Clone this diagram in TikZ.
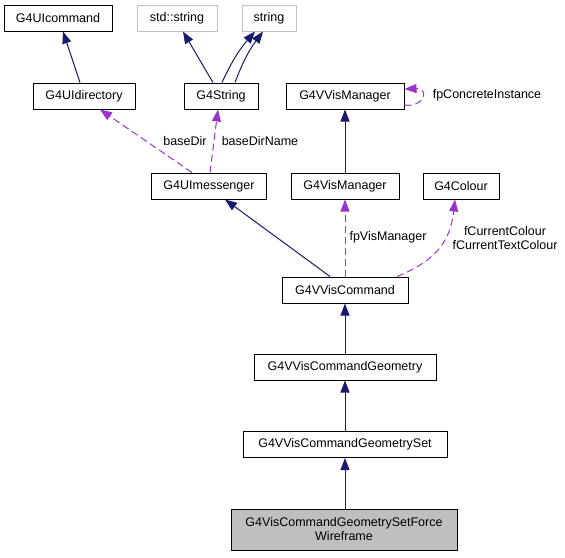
\documentclass[tikz,border=0pt]{standalone}
\usepackage{fontspec}
\setmainfont{Liberation Sans}
\usetikzlibrary{arrows.meta}
\definecolor{navyc}{HTML}{191970}
\definecolor{purp}{HTML}{9A32CD}
\definecolor{extgray}{HTML}{BFBFBF}
\begin{document}
\begin{tikzpicture}[x=1pt,y=-1pt,
    cls/.style={draw=black,fill=white,line width=1pt,inner sep=0pt,minimum height=26pt,font=\fontsize{12.5}{14}\selectfont},
    ext/.style={cls,draw=extgray},
    cur/.style={cls,fill=extgray,align=center,minimum height=41pt},
    inh/.style={navyc,line width=1pt,-{Triangle[length=12pt,width=9pt]}},
    usr/.style={purp,line width=1pt,dash pattern=on 7pt off 4pt,-{Triangle[length=12pt,width=9pt]}},
    lbl/.style={font=\fontsize{12.5}{14}\selectfont,inner sep=0pt}]
            \useasboundingbox (0,0) rectangle (565,557);
            \node[cls,minimum width=108pt] (cmd) at (58,18) {G4UIcommand};
            \node[ext,minimum width=80pt] (stds) at (177,18) {std::string};
            \node[ext,minimum width=54pt] (str) at (269,18) {string};
            \node[cls,minimum width=102pt] (dir) at (84,96) {G4UIdirectory};
            \node[cls,minimum width=74pt] (g4str) at (221,96) {G4String};
            \node[cls,minimum width=118pt] (vvm) at (345,96) {G4VVisManager};
            \node[cls,minimum width=115pt] (msg) at (209,186) {G4UImessenger};
            \node[cls,minimum width=108pt] (vm) at (345,186) {G4VisManager};
            \node[cls,minimum width=76pt] (col) at (461,186) {G4Colour};
            \node[cls,minimum width=126pt] (vcmd) at (345,290) {G4VVisCommand};
            \node[cls,minimum width=182pt] (geo) at (345,367) {G4VVisCommandGeometry};
            \node[cls,minimum width=204pt] (gset) at (345,444.5) {G4VVisCommandGeometrySet};
            \node[cur,minimum width=226pt] (wire) at (344,529.5) {G4VisCommandGeometrySetForce\\Wireframe};
            % inheritance
            \draw[inh] ([xshift=-4pt]dir.north) -- ([xshift=5pt]cmd.south);
            \draw[inh] ([xshift=-8pt]g4str.north) -- ([xshift=6pt]stds.south);
            \draw[inh] ([xshift=1pt]g4str.north) to[bend left=8] ([xshift=-14pt]str.south);
            \draw[inh] ([xshift=14pt]g4str.north) to[bend left=8] ([xshift=-6pt]str.south);
            \draw[inh] (vm.north) -- (vvm.south);
            \draw[inh] ([xshift=-15pt]vcmd.north) -- ([xshift=16pt]msg.south);
            \draw[inh] (geo.north) -- (vcmd.south);
            \draw[inh] (gset.north) -- (geo.south);
            \draw[inh] ([xshift=1pt]wire.north) -- (gset.south);
            % usage
            \draw[usr] ([xshift=-17pt]msg.north) -- ([xshift=16pt]dir.south);
            \draw[usr] ([xshift=1pt]msg.north) -- ([xshift=-3pt]g4str.south);
            \node[lbl] (lbaseDir) at (185,141) {baseDir};
            \node[lbl] (lbaseDirName) at (260,141) {baseDirName};
            \draw[usr] ([yshift=-9pt]vvm.east) .. controls (424,108) and (430,88) .. ([yshift=7pt]vvm.east);
            \node[lbl] (lconc) at (487,95) {fpConcreteInstance};
            \draw[usr] (vcmd.north) -- (vm.south);
            \node[lbl] (lvm) at (388,237) {fpVisManager};
            \draw[usr] ([xshift=52pt]vcmd.north) .. controls (432,262) and (450,245) .. ([xshift=-6pt]col.south);
            \node[lbl,align=center] (lcol) at (505,238) {fCurrentColour\\fCurrentTextColour};
\end{tikzpicture}
\end{document}
